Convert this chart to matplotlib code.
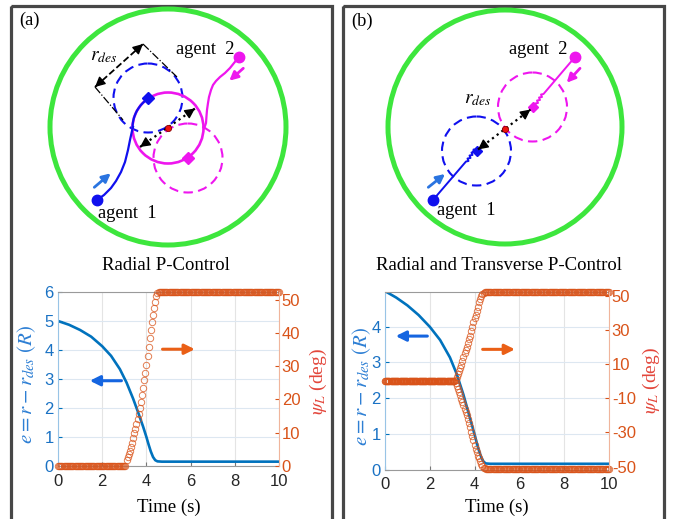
import numpy as np
import matplotlib
matplotlib.use('Agg')
import matplotlib.pyplot as plt
from matplotlib.patches import Circle, Rectangle

plt.rcParams['font.family'] = 'Liberation Sans'
plt.rcParams['mathtext.fontset'] = 'stix'
plt.rcParams['axes.unicode_minus'] = False

W, H = 673, 519
SERIF = 'Liberation Serif'

# ---------------- time-series data ----------------
t = np.round(np.arange(0, 10.0001, 0.05), 2)

# panel (a): radial error e(t) (left axis)
t_ea = [0, 0.5, 1.0, 1.5, 2.0, 2.4, 2.8, 3.1, 3.4, 3.63, 3.85, 4.0, 4.1, 4.2, 4.3, 4.4, 4.5, 4.7, 10.0]
e_a = [5.0, 4.87, 4.69, 4.46, 4.13, 3.80, 3.34, 2.88, 2.32, 1.84, 1.36, 1.00, 0.74, 0.50, 0.31,
       0.20, 0.16, 0.15, 0.15]

# panel (a): psi_L (right axis), sampled every 0.05 s
psi_a_rise = [1.8, 2.6, 3.6, 4.6, 5.8, 7.0, 8.5, 9.8, 11.2, 12.5, 14.0, 15.7, 17.4, 19.3, 21.3,
              23.4, 25.7, 28.0, 30.4, 33.0, 35.7, 38.4, 40.9, 43.2, 45.5, 47.5, 49.4, 51.0, 52.0]
psi_a = [0.0] * 62 + psi_a_rise + [52.3] * 110

# panel (b): error e(t)
t_eb = [0, 0.5, 1.0, 1.5, 2.0, 2.46, 2.9, 3.2, 3.5, 3.79, 4.0, 4.1, 4.2, 4.3, 4.4, 4.5, 4.7, 10.0]
e_b = [5.0, 4.82, 4.6, 4.33, 4.0, 3.63, 3.14, 2.68, 2.1, 1.45, 0.98, 0.74, 0.52, 0.34, 0.22,
       0.17, 0.16, 0.16]

# panel (b): psi_L, two branches
psi_b_up_rise = [0.8, 2.5, 4.2, 5.9, 7.5, 9.8, 12.1, 14.4, 16.4, 18.3, 20.3, 22.4, 24.5, 26.6,
                 29.2, 31.9, 34.5, 36.9, 39.1, 41.3, 43.8, 46.2, 48.2, 50.0, 51.2, 51.9, 52.3]
psi_b_dn_rise = [-0.9, -2.7, -4.4, -6.3, -8.2, -10.2, -12.1, -14.0, -16.0, -17.9, -19.9, -21.9,
                 -24.2, -26.8, -29.5, -32.1, -34.7, -37.3, -39.6, -41.6, -43.5, -45.2, -46.9,
                 -48.5, -49.7, -50.6, -51.1]
psi_b_up = [0.0] * 63 + psi_b_up_rise + [52.5] * 111
psi_b_dn = [0.0] * 63 + psi_b_dn_rise + [-51.5] * 111

x_ticks = [0, 2, 4, 6, 8, 10]
e_ticks_a = [0, 1, 2, 3, 4, 5, 6]
psi_ticks_a = [0, 10, 20, 30, 40, 50]
e_ticks_b = [0, 1, 2, 3, 4]
psi_ticks_b = [-50, -30, -10, 10, 30, 50]

# ---------------- schematic data (canvas pixel units) ----------------
arena_a = (168, 127); arena_r_a = 118
arena_b = (505, 127); arena_r_b = 117
center_a = (168, 128); orbit_r = 35.5
center_b = (505, 129)
rdes_r = 34.5

agent1_a = (97, 200); agent2_a = (239, 57)
path1_a_x = [97, 104, 111, 116, 121, 125, 128, 130, 132, 133]
path1_a_y = [200, 195, 188, 181, 172, 162, 150, 140, 131, 127]
path2_a_x = [239, 234, 230, 225, 220, 216, 213, 211, 209, 208, 207, 206.5, 206, 205, 204]
path2_a_y = [57, 63, 68, 73, 77, 81, 85, 90, 97, 103, 110, 116, 123, 126, 128]
diam1_a = (148, 98); diam2_a = (188, 158)

agent1_b = (433, 200); agent2_b = (575, 57)
path1_b_x = [433, 466, 468.5, 467.5, 470.5, 469.5, 472.5, 471.5, 474.5, 473.5, 476.5]
path1_b_y = [200, 161.5, 161, 158.5, 158, 155.5, 155, 152.5, 152, 149.5, 150]
path2_b_x = [575, 543.5, 541, 542, 539, 540, 537, 538, 535, 536, 532]
path2_b_y = [57, 94, 94.5, 97, 97.5, 100, 100.5, 103, 103.5, 106, 107]
diam1_b = (476.5, 151); diam2_b = (532.5, 107)

BLUE = '#1010ee'
MAG = '#ee16ee'
GREEN = '#3de63d'
EBLUE = '#0072BD'
ORANGE = '#D95319'

fig = plt.figure(figsize=(W / 100, H / 100), dpi=100)
ax0 = fig.add_axes([0, 0, 1, 1])
ax0.set_xlim(0, W)
ax0.set_ylim(H, 0)
ax0.axis('off')

# panel frames
ax0.add_patch(Rectangle((11, 6), 320.5, 600, fill=False, ec='#474747', lw=2.3))
ax0.add_patch(Rectangle((342.7, 6), 321.3, 600, fill=False, ec='#474747', lw=2.3))


def head(ax, tip, tail, color, lw=1.2, hl=0.6, hw=0.3):
    ax.annotate('', xy=tip, xytext=tail,
                arrowprops=dict(arrowstyle='-|>,head_length=%g,head_width=%g' % (hl, hw),
                                color=color, lw=lw, shrinkA=0, shrinkB=0))


def dbl_arrow(ax, p1, p2, ls, lw=1.4):
    ax.plot([p1[0], p2[0]], [p1[1], p2[1]], ls=ls, color='k', lw=lw)
    for a, b in ((p1, p2), (p2, p1)):
        v = np.array(a) - np.array(b)
        v = v / np.hypot(*v)
        head(ax, a, (a[0] - 5 * v[0], a[1] - 5 * v[1]), 'k', lw=1.0)


# ---- panel (a) schematic ----
ax0.add_patch(Circle(arena_a, arena_r_a, fill=False, ec=GREEN, lw=3.6))
ax0.plot(path1_a_x, path1_a_y, color=BLUE, lw=1.6)
th = np.linspace(np.pi, np.arctan2(diam1_a[1] - center_a[1], diam1_a[0] - center_a[0]) + 2 * np.pi, 30)
ax0.plot(center_a[0] + orbit_r * np.cos(th), center_a[1] + orbit_r * np.sin(th), color=BLUE, lw=1.6)
ax0.add_patch(Circle(diam1_a, rdes_r, fill=False, ec=BLUE, lw=1.5, ls=(0, (4.5, 2.6))))
ax0.add_patch(Circle(diam2_a, rdes_r, fill=False, ec=MAG, lw=1.5, ls=(0, (4.5, 2.6))))
ax0.add_patch(Circle(center_a, orbit_r, fill=False, ec=MAG, lw=1.9))
ax0.plot(path2_a_x, path2_a_y, color=MAG, lw=1.6)
ax0.plot(*diam1_a, 'D', color=BLUE, ms=6)
ax0.plot(*diam2_a, 'D', color=MAG, ms=6)
ax0.plot(*agent1_a, 'o', color=BLUE, ms=7.5)
ax0.plot(*agent2_a, 'o', color=MAG, ms=7.5)
dbl_arrow(ax0, (140, 147), (195, 108.5), ':', lw=1.6)
ax0.plot(*center_a, 'o', color='#ee1111', mec='#880000', ms=4.5, mew=0.6)
# r_des annotation
ax0.plot([95, 123], [87, 120], ls='-.', color='k', lw=0.9)
ax0.plot([143, 177], [44, 77], ls='-.', color='k', lw=0.9)
dbl_arrow(ax0, (95, 87), (143, 44), '--', lw=1.3)
ax0.text(104, 56, r'$r_{des}$', fontsize=14, ha='center', va='center')
head(ax0, (110.7, 173.3), (94.3, 187.3), '#2a74e0', lw=2.0, hl=0.5, hw=0.25)
head(ax0, (229.3, 80.7), (243.3, 68.3), MAG, lw=2.0, hl=0.5, hw=0.25)
ax0.text(127, 218, 'agent  1', family=SERIF, fontsize=13.3, ha='center', va='baseline')
ax0.text(205, 54, 'agent  2', family=SERIF, fontsize=13.3, ha='center', va='baseline')
ax0.text(30, 20, '(a)', family=SERIF, fontsize=13.3, ha='center', va='center')

# ---- panel (b) schematic ----
ax0.add_patch(Circle(arena_b, arena_r_b, fill=False, ec=GREEN, lw=3.6))
ax0.add_patch(Circle(diam1_b, rdes_r, fill=False, ec=BLUE, lw=1.5, ls=(0, (4.5, 2.6))))
ax0.add_patch(Circle(diam2_b, rdes_r, fill=False, ec=MAG, lw=1.5, ls=(0, (4.5, 2.6))))
ax0.plot(path1_b_x, path1_b_y, color=BLUE, lw=1.4)
ax0.plot(path2_b_x, path2_b_y, color=MAG, lw=1.4)
ax0.plot(*diam1_b, 'D', color=BLUE, ms=5.5)
ax0.plot(*diam2_b, 'D', color=MAG, ms=5.5)
ax0.plot(*agent1_b, 'o', color=BLUE, ms=7.5)
ax0.plot(*agent2_b, 'o', color=MAG, ms=7.5)
dbl_arrow(ax0, (478, 149.5), (530.5, 109.5), ':', lw=1.6)
ax0.plot(*center_b, 'o', color='#ee1111', mec='#880000', ms=4.5, mew=0.6)
ax0.text(478, 99, r'$r_{des}$', fontsize=14, ha='center', va='center')
head(ax0, (445, 174), (428.3, 187.3), '#2a74e0', lw=2.0, hl=0.5, hw=0.25)
head(ax0, (566.7, 82.7), (580, 68.3), MAG, lw=2.0, hl=0.5, hw=0.25)
ax0.text(466, 215, 'agent  1', family=SERIF, fontsize=13.3, ha='center', va='baseline')
ax0.text(538, 54, 'agent  2', family=SERIF, fontsize=13.3, ha='center', va='baseline')
ax0.text(362, 21, '(b)', family=SERIF, fontsize=13.3, ha='center', va='center')


# ---------------- time plots ----------------
def make_plot(left, right, top, bottom, elim, eticks, plim, pticks):
    ax = fig.add_axes([left / W, 1 - bottom / H, (right - left) / W, (bottom - top) / H])
    ax2 = ax.twinx()
    ax.set_xlim(0, 10)
    ax.set_ylim(*elim)
    ax2.set_ylim(*plim)
    ax.set_xticks(x_ticks)
    ax.set_yticks(eticks)
    ax2.set_yticks(pticks)
    ax.xaxis.grid(True, color='#e4e4e4', lw=0.8)
    ax.yaxis.grid(True, color='#dde7f1', lw=0.8)
    ax.set_axisbelow(True)
    ax.tick_params(axis='x', direction='in', length=3, color='#777777', labelcolor='#262626',
                   labelsize=12, pad=5.5)
    ax.tick_params(axis='y', direction='in', length=3, color=EBLUE, labelcolor='#1a72c4',
                   labelsize=12, pad=3)
    ax2.tick_params(axis='y', direction='in', length=3, color=ORANGE, labelcolor=ORANGE,
                    labelsize=12, pad=2)
    ax.spines['right'].set_visible(False)
    ax.spines['left'].set_color('#98c4e6')
    ax.spines['top'].set_color('#9a9a9a')
    ax.spines['bottom'].set_color('#9a9a9a')
    for s in ('left', 'top', 'bottom'):
        ax2.spines[s].set_visible(False)
    ax2.spines['right'].set_color('#f0b59c')
    for sp in list(ax.spines.values()) + list(ax2.spines.values()):
        sp.set_linewidth(0.8)
    return ax, ax2


def marks(ax2, y):
    ax2.plot(t, y, 'o', mfc='none', mec=ORANGE, ms=4.6, mew=0.7, alpha=0.75, clip_on=False)


ARROW = '-|>,head_length=0.6,head_width=0.3'

# panel (a)
axa, axa2 = make_plot(58, 279, 292, 466, (0, 6), e_ticks_a, (0, 52.3), psi_ticks_a)
axa.plot(t_ea, e_a, color=EBLUE, lw=1.9)
marks(axa2, psi_a)
axa.annotate('', xy=(1.44, 2.94), xytext=(2.87, 2.94),
             arrowprops=dict(arrowstyle=ARROW, color='#1565e0', lw=2.2, shrinkA=0, shrinkB=0))
axa2.annotate('', xy=(6.19, 35.1), xytext=(4.73, 35.1),
              arrowprops=dict(arrowstyle=ARROW, color='#ea5f16', lw=2.2, shrinkA=0, shrinkB=0))

# panel (b)
axb, axb2 = make_plot(385, 609, 291.5, 469.5, (0, 4.99), e_ticks_b, (-51.7, 52.6), psi_ticks_b)
axb.plot(t_eb, e_b, color=EBLUE, lw=1.9)
marks(axb2, psi_b_up)
marks(axb2, psi_b_dn)
axb.annotate('', xy=(0.48, 3.74), xytext=(1.89, 3.74),
             arrowprops=dict(arrowstyle=ARROW, color='#1565e0', lw=2.2, shrinkA=0, shrinkB=0))
axb2.annotate('', xy=(5.80, 18.7), xytext=(4.36, 18.7),
              arrowprops=dict(arrowstyle=ARROW, color='#ea5f16', lw=2.2, shrinkA=0, shrinkB=0))

# titles and labels
ax0.text(165.5, 266, 'Radial P-Control', family=SERIF, fontsize=13.5, ha='center', va='center')
ax0.text(499, 266, 'Radial and Transverse P-Control', family=SERIF, fontsize=13.5,
         ha='center', va='center')
ax0.text(168.5, 507, 'Time (s)', family=SERIF, fontsize=13.5, ha='center', va='center')
ax0.text(497, 507, 'Time (s)', family=SERIF, fontsize=13.5, ha='center', va='center')
ax0.text(26.7, 384, r'$e = r - r_{des}\ (R)$', fontsize=15, color='#2d7fd4', rotation=90,
         ha='center', va='center')
ax0.text(361.7, 386, r'$e = r - r_{des}\ (R)$', fontsize=15, color='#2d7fd4', rotation=90,
         ha='center', va='center')
ax0.text(318.3, 381.7, r'$\psi_L$ (deg)', family=SERIF, fontsize=14, color='#e3463b',
         rotation=90, ha='center', va='center')
ax0.text(651, 380, r'$\psi_L$ (deg)', family=SERIF, fontsize=14, color='#e3463b',
         rotation=90, ha='center', va='center')

fig.savefig('out.png', dpi=100)
